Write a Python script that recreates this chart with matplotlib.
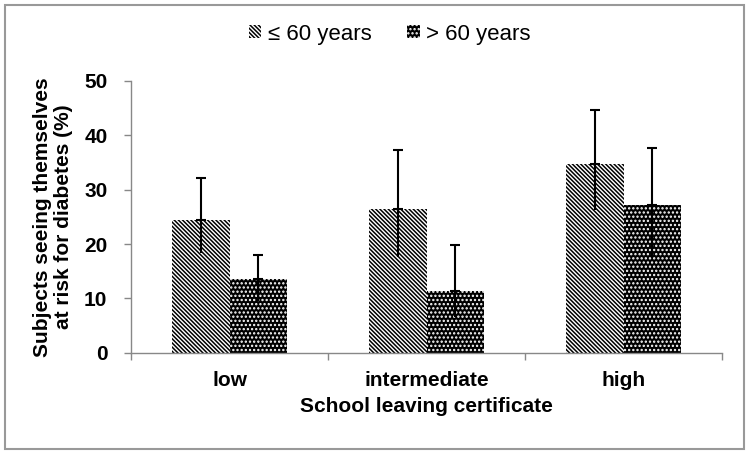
import numpy as np
import matplotlib
matplotlib.use("Agg")
import matplotlib.pyplot as plt
from matplotlib.patches import Rectangle, Patch

categories = ["low", "intermediate", "high"]
series_names = ["\u2264 60 years", "> 60 years"]

young = [24.5, 26.4, 34.8]
young_lo = [18.3, 17.6, 26.2]
young_hi = [32.2, 37.3, 44.6]

old = [13.5, 11.4, 27.1]
old_lo = [9.6, 6.5, 17.5]
old_hi = [17.9, 19.9, 37.6]

plt.rcParams['hatch.linewidth'] = 1.1

fig = plt.figure(figsize=(7.5, 4.55), dpi=100)
ax = fig.add_axes([0.1747, 0.2248, 0.788, 0.5972])

x = np.arange(len(categories))
w = 0.29
hatch_young = "\\" * 8
hatch_old = "." * 4

ax.bar(x - w / 2, young, w, color="white", edgecolor="black", hatch=hatch_young, linewidth=0)
ax.bar(x + w / 2, old, w, color="black", edgecolor="white", hatch=hatch_old, linewidth=0)

# error bars: upper part with cap, lower part without
for xs, v, lo, hi in [(x - w / 2, young, young_lo, young_hi), (x + w / 2, old, old_lo, old_hi)]:
    v = np.array(v)
    up = np.array(hi) - v
    down = v - np.array(lo)
    ax.errorbar(xs, v, yerr=[np.zeros_like(v), up], fmt="none", ecolor="black",
                elinewidth=1.5, capsize=3.8, capthick=1.5)
    ax.errorbar(xs, v, yerr=[down, np.zeros_like(v)], fmt="none", ecolor="black",
                elinewidth=1.5, capsize=0)

ax.set_xlim(-0.5, 2.5)
ax.set_ylim(0, 50)
ax.set_yticks(range(0, 51, 10))
ax.set_xticks(x)
ax.set_xticklabels(categories)
ax.set_xticks([-0.5, 0.5, 1.5, 2.5], minor=True)
ax.tick_params(axis="x", which="major", length=0, pad=13)
ax.tick_params(axis="x", which="minor", length=5, width=1, color="#888888", direction="out")
ax.tick_params(axis="y", length=5, width=1, color="#888888", direction="out", pad=12)

for lab in ax.get_xticklabels() + ax.get_yticklabels():
    lab.set_fontfamily("Liberation Sans")
    lab.set_fontweight("bold")
    lab.set_fontsize(15)

for s in ["top", "right"]:
    ax.spines[s].set_visible(False)
for s in ["left", "bottom"]:
    ax.spines[s].set_color("#888888")
    ax.spines[s].set_linewidth(1)

ax.set_xlabel("School leaving certificate", fontsize=15, fontweight="bold",
              fontfamily="Liberation Sans", labelpad=5)
ax.set_ylabel("Subjects seeing themselves\nat risk for diabetes (%)", fontsize=15,
              fontweight="bold", fontfamily="Liberation Sans", labelpad=8, linespacing=1.1)

handles = [Patch(facecolor="white", edgecolor="black", hatch=hatch_young, linewidth=0),
           Patch(facecolor="black", edgecolor="white", hatch=hatch_old, linewidth=0)]
fig.legend(handles, series_names, loc="center", bbox_to_anchor=(0.52, 0.925), ncol=2,
           frameon=False, prop={"family": "Liberation Sans", "size": 16},
           handlelength=0.55, handleheight=0.55, handletextpad=0.3, columnspacing=1.6)

fig.add_artist(Rectangle((5 / 750, 1 - 449 / 455), 739 / 750, 444 / 455,
                         transform=fig.transFigure, fill=False, edgecolor="#999999", linewidth=1.5))

fig.savefig("out.png", dpi=100)
